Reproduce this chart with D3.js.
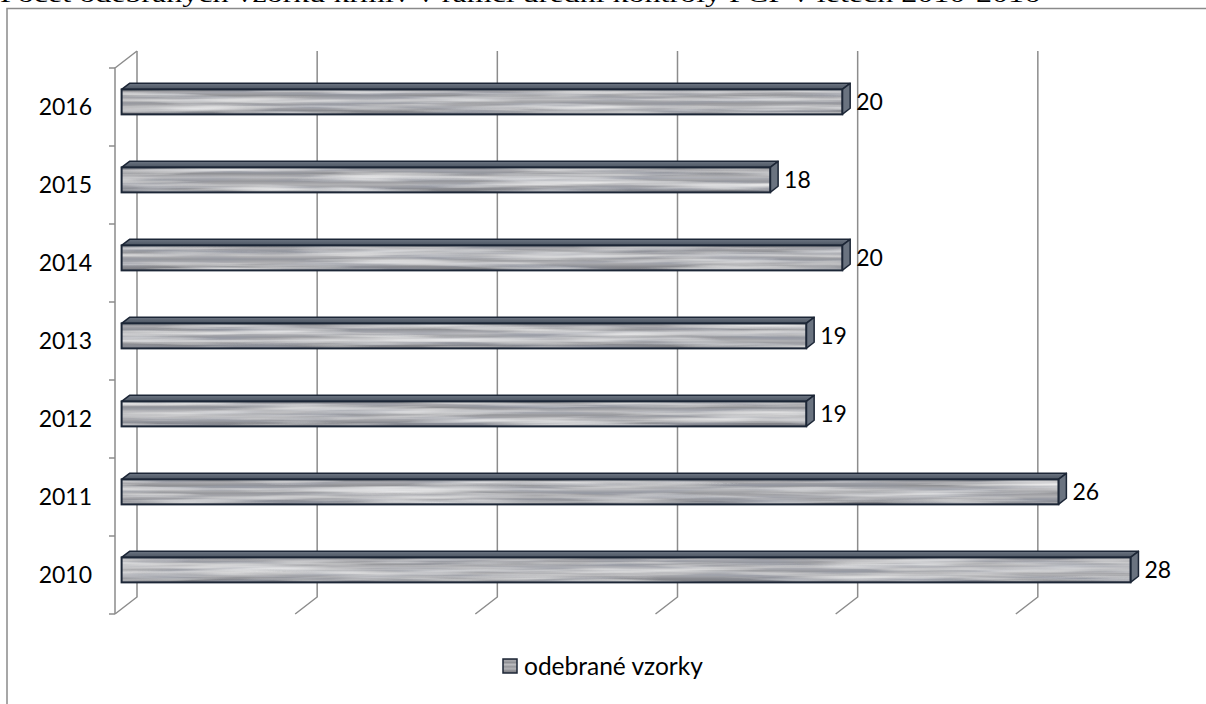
<!DOCTYPE html>
<html>
<head>
<meta charset="utf-8">
<script src="https://cdn.jsdelivr.net/npm/d3@7"></script>
<style>
  body { margin: 0; background: #fff; }
  svg { display: block; }
</style>
</head>
<body>
<script>
const title = 'Počet odebraných vzorků krmiv v rámci úřední kontroly PCP v letech 2010-2016'
const years = ['2016', '2015', '2014', '2013', '2012', '2011', '2010']
const samples = [20, 18, 20, 19, 19, 26, 28]
const xTicks = [0, 5, 10, 15, 20, 25]
const seriesName = 'odebrané vzorky'

const W = 1206, H = 704
const depth = { x: 22, y: -17 }
const f1 = 0.3, f2 = 0.66 // bar depth position
const font = 'Lato, "Open Sans", sans-serif'

const svg = d3.select('body').append('svg')
  .attr('width', W)
  .attr('height', H)

const defs = svg.append('defs')

const grad = defs.append('linearGradient')
  .attr('id', 'barFill')
  .attr('x1', 0).attr('y1', 0).attr('x2', 0).attr('y2', 1)
const stops = [
  [0, '#7e7f84'], [0.12, '#a9a9ad'], [0.25, '#8f9094'], [0.4, '#bdbdc0'],
  [0.55, '#96979b'], [0.7, '#b2b2b5'], [0.85, '#898a8f'], [1, '#7a7b80']
]
stops.forEach(s => grad.append('stop').attr('offset', s[0]).attr('stop-color', s[1]))

const topGrad = defs.append('linearGradient')
  .attr('id', 'topFill')
  .attr('x1', 0).attr('y1', 0).attr('x2', 0).attr('y2', 1)
topGrad.append('stop').attr('offset', 0).attr('stop-color', '#6c7582')
topGrad.append('stop').attr('offset', 1).attr('stop-color', '#4a5461')

const filter = defs.append('filter')
  .attr('id', 'grain')
  .attr('x', 0).attr('y', 0).attr('width', 1).attr('height', 1)
filter.append('feTurbulence')
  .attr('type', 'fractalNoise')
  .attr('baseFrequency', '0.006 0.16')
  .attr('numOctaves', 3)
  .attr('seed', 7)
  .attr('result', 'n')
filter.append('feColorMatrix')
  .attr('in', 'n')
  .attr('type', 'matrix')
  .attr('values', '0 0 0 0 1  0 0 0 0 1  0 0 0 0 1  1.5 0 0 0 -0.6')
  .attr('result', 'w')
filter.append('feTurbulence')
  .attr('type', 'fractalNoise')
  .attr('baseFrequency', '0.01 0.22')
  .attr('numOctaves', 2)
  .attr('seed', 21)
  .attr('result', 'n2')
filter.append('feColorMatrix')
  .attr('in', 'n2')
  .attr('type', 'matrix')
  .attr('values', '0 0 0 0 0.3  0 0 0 0 0.32  0 0 0 0 0.38  1.7 0 0 0 -0.65')
  .attr('result', 'd')
filter.append('feComposite').attr('in', 'w').attr('in2', 'SourceGraphic').attr('operator', 'in').attr('result', 'wi')
filter.append('feComposite').attr('in', 'd').attr('in2', 'SourceGraphic').attr('operator', 'in').attr('result', 'di')
const merge = filter.append('feMerge')
merge.append('feMergeNode').attr('in', 'SourceGraphic')
merge.append('feMergeNode').attr('in', 'di')
merge.append('feMergeNode').attr('in', 'wi')

// title (cut off at the top edge in the source)
svg.append('text')
  .attr('x', 0)
  .attr('y', 2)
  .attr('textLength', 1040)
  .attr('lengthAdjust', 'spacingAndGlyphs')
  .attr('font-family', '"Liberation Serif", "DejaVu Serif", serif')
  .attr('font-size', 24)
  .text(title)

// frame
svg.append('rect')
  .attr('x', 7)
  .attr('y', 8.5)
  .attr('width', W)
  .attr('height', H)
  .attr('fill', 'none')
  .attr('stroke', '#8a8a8a')
  .attr('stroke-width', 1.5)

const x = d3.scaleLinear().domain([0, 30]).range([115, 1196])
const y = d3.scaleBand()
  .domain(years)
  .range([68, 614])
  .paddingInner(0.68)
  .paddingOuter(0.34)
const step = y.step()

const grid = svg.append('g')
  .attr('fill', 'none')
  .attr('stroke', '#8c8c8c')
  .attr('stroke-width', 1.5)

// back + floor lines of the gridlines
grid.selectAll('.gl')
  .data(xTicks).enter()
  .append('path')
  .attr('class', 'gl')
  .attr('d', d => {
    let bx = x(d) + depth.x
    return `M${bx},${68 + depth.y}V${614 + depth.y}L${x(d)},614`
  })

// left wall front edge and top edge
grid.append('path')
  .attr('d', `M${x(0)},614V68L${x(0) + depth.x},${68 + depth.y}`)

// category ticks
grid.selectAll('.tk')
  .data(d3.range(years.length + 1)).enter()
  .append('line')
  .attr('class', 'tk')
  .attr('x1', x(0) - 6)
  .attr('x2', x(0))
  .attr('y1', i => 68 + i * step)
  .attr('y2', i => 68 + i * step)

const data = years.map((c, i) => ({ year: c, value: samples[i] }))

const bars = svg.selectAll('.bar')
  .data(data).enter()
  .append('g')
  .attr('class', 'bar')

const dx1 = depth.x * f1, dy1 = depth.y * f1
const dx2 = depth.x * f2, dy2 = depth.y * f2
const stroke = '#1c2636'

// top face
bars.append('path')
  .attr('d', d => {
    let x0 = x(0) + dx1, x1 = x(d.value) + dx1, t = y(d.year) + dy1
    return `M${x0},${t}L${x0 + dx2 - dx1},${t + dy2 - dy1}L${x1 + dx2 - dx1},${t + dy2 - dy1}L${x1},${t}Z`
  })
  .attr('fill', 'url(#topFill)')
  .attr('stroke', stroke)
  .attr('stroke-width', 1.5)
  .attr('stroke-linejoin', 'round')

// side face
bars.append('path')
  .attr('d', d => {
    let x1 = x(d.value) + dx1, t = y(d.year) + dy1, b = t + y.bandwidth()
    let ox = dx2 - dx1, oy = dy2 - dy1
    return `M${x1},${t}L${x1 + ox},${t + oy}L${x1 + ox},${b + oy}L${x1},${b}Z`
  })
  .attr('fill', '#6a7380')
  .attr('stroke', stroke)
  .attr('stroke-width', 1.5)
  .attr('stroke-linejoin', 'round')

// front face
bars.append('rect')
  .attr('x', x(0) + dx1)
  .attr('y', d => y(d.year) + dy1)
  .attr('width', d => x(d.value) - x(0))
  .attr('height', y.bandwidth())
  .attr('fill', 'url(#barFill)')
  .attr('filter', 'url(#grain)')

bars.append('rect')
  .attr('x', x(0) + dx1)
  .attr('y', d => y(d.year) + dy1)
  .attr('width', d => x(d.value) - x(0))
  .attr('height', y.bandwidth())
  .attr('fill', 'none')
  .attr('stroke', stroke)
  .attr('stroke-width', 2)

// value labels
bars.append('text')
  .attr('x', d => x(d.value) + dx2 + 6)
  .attr('y', d => y(d.year) + dy1 + y.bandwidth() / 2)
  .attr('dy', '0.36em')
  .attr('font-family', font)
  .attr('font-size', 23)
  .attr('fill', '#000')
  .text(d => d.value)

// category labels
svg.selectAll('.ylab')
  .data(years).enter()
  .append('text')
  .attr('class', 'ylab')
  .attr('x', 92)
  .attr('y', d => y(d) + y.bandwidth() / 2)
  .attr('dy', '0.36em')
  .attr('text-anchor', 'end')
  .attr('font-family', font)
  .attr('font-size', 23)
  .attr('fill', '#000')
  .text(d => d)

// legend
const lg = svg.append('g').attr('transform', 'translate(503,659)')
lg.append('rect')
  .attr('width', 14)
  .attr('height', 14)
  .attr('fill', 'url(#barFill)')
  .attr('stroke', stroke)
  .attr('stroke-width', 1.5)
lg.append('text')
  .attr('x', 21)
  .attr('y', 7)
  .attr('dy', '0.36em')
  .attr('font-family', font)
  .attr('font-size', 24.5)
  .attr('fill', '#000')
  .text(seriesName)
</script>
</body>
</html>
